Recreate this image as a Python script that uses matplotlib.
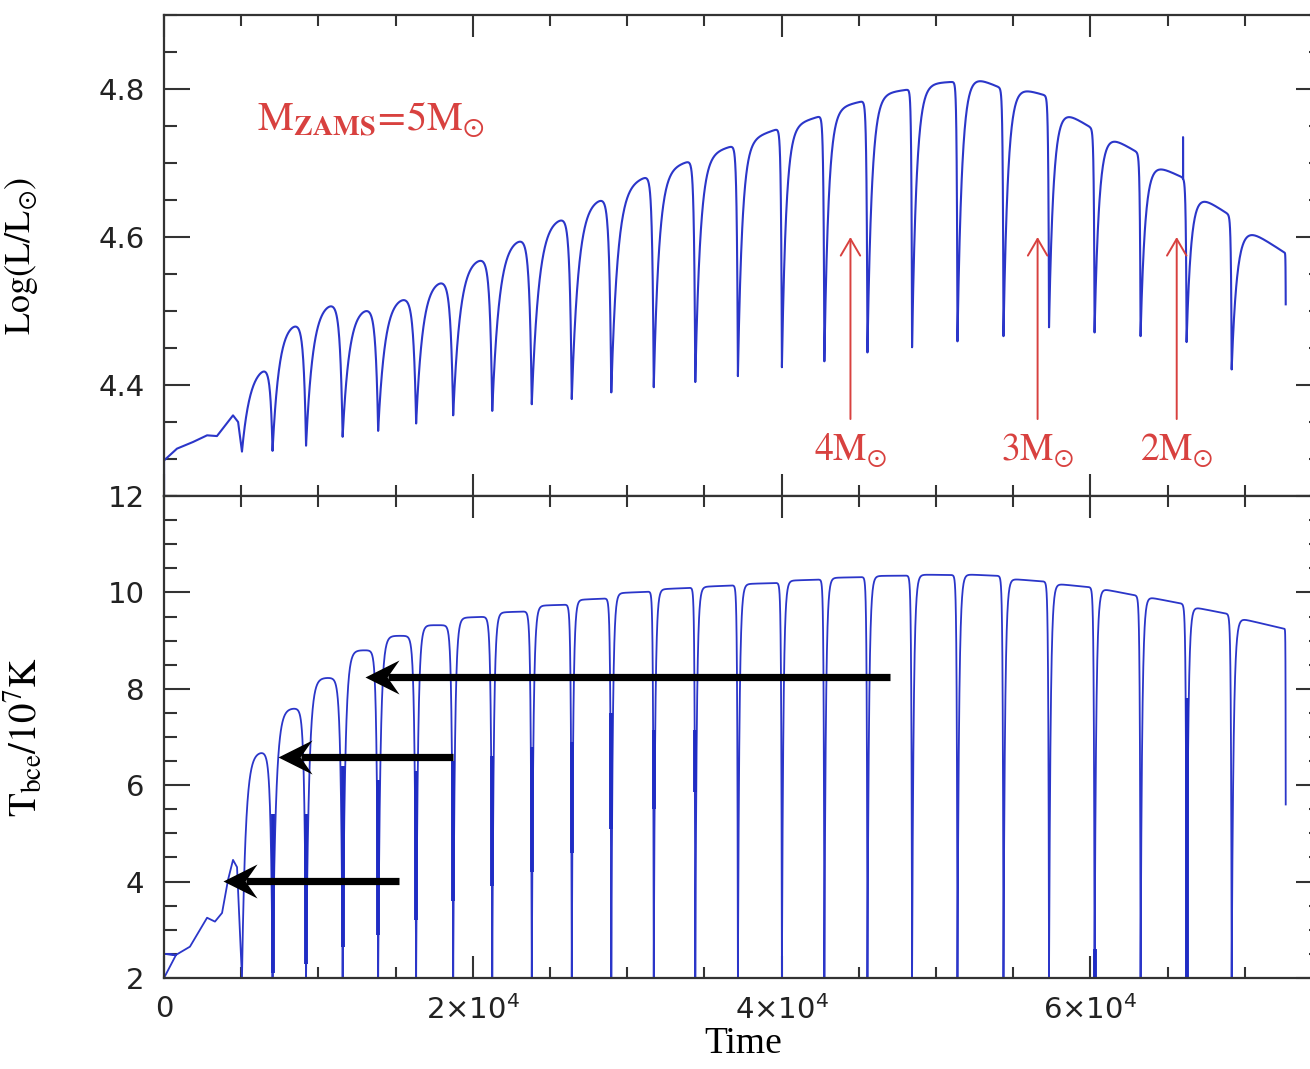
import numpy as np
import matplotlib
matplotlib.use("Agg")
import matplotlib.pyplot as plt
from matplotlib.path import Path
from matplotlib.ticker import MultipleLocator, FixedLocator

# ---------------- data ----------------
# times of the thermal pulses (years)
pulse_time = [5050, 7030, 9200, 11570, 13870, 16330, 18730, 21260, 23820, 26410,
              28970, 31720, 34410, 37170, 40020, 42770, 45560, 48450, 51390, 54370,
              57320, 60270, 63250, 66230, 69150]
end_time = 72650

# early (pre-pulse) part of the tracks
pre_time_L = [0, 0, 0, 840, 1880, 2790, 3430, 3950, 4470, 4800]
pre_L = [4.45, 4.25, 4.298, 4.314, 4.323, 4.332, 4.331, 4.345, 4.359, 4.350]
pre_time_T = [0, 0, 780, 0, 780, 1680, 2790, 3300, 3760, 4150, 4470, 4730]
pre_T = [3.9, 2.0, 2.48, 2.5, 2.48, 2.65, 3.25, 3.17, 3.35, 4.04, 4.45, 4.30]

# luminosity: value at each pulse dip, level after recovery, level before next pulse
lum_dip = [4.310, 4.311, 4.318, 4.330, 4.338, 4.348, 4.359, 4.365, 4.374, 4.381,
           4.390, 4.397, 4.404, 4.412, 4.424, 4.432, 4.444, 4.451, 4.459, 4.466,
           4.478, 4.471, 4.466, 4.458, 4.421]
lum_start = [4.430, 4.490, 4.515, 4.510, 4.522, 4.545, 4.575, 4.600, 4.627, 4.650,
             4.670, 4.690, 4.710, 4.728, 4.748, 4.772, 4.792, 4.807, 4.826, 4.808,
             4.782, 4.748, 4.707, 4.667, 4.625]
lum_end = [4.428, 4.485, 4.513, 4.505, 4.520, 4.543, 4.573, 4.600, 4.628, 4.655,
           4.685, 4.705, 4.725, 4.748, 4.765, 4.785, 4.800, 4.810, 4.800, 4.790,
           4.745, 4.712, 4.678, 4.628, 4.578]
lum_final = 4.509
lum_rise = [0.27, 0.20, 0.19, 0.19, 0.18, 0.18, 0.18, 0.18, 0.18, 0.17,
            0.15, 0.13, 0.12, 0.10, 0.10, 0.10, 0.10, 0.10, 0.10, 0.10,
            0.10, 0.10, 0.10, 0.10, 0.10]
lum_drop = [0.07, 0.07, 0.07, 0.07, 0.07, 0.07, 0.06, 0.06, 0.05, 0.05,
            0.035, 0.03, 0.025, 0.02, 0.02, 0.02, 0.015, 0.015, 0.015, 0.015,
            0.015, 0.015, 0.015, 0.015, 0.003]
spike_time = 66000
spike_top = 4.735

# temperature at the base of the convective envelope (1e7 K)
temp_dip = [2.0, 2.0, 2.0, 2.0, 2.0, 2.0, 2.0, 2.0, 2.0, 2.0,
            2.0, 2.0, 2.0, 2.0, 2.0, 2.0, 2.0, 2.0, 2.0, 2.0,
            2.0, 2.0, 2.0, 2.0, 2.0]
temp_start = [6.70, 7.60, 8.23, 8.80, 9.10, 9.32, 9.47, 9.58, 9.72, 9.84,
              9.98, 10.06, 10.11, 10.17, 10.24, 10.30, 10.34, 10.37, 10.38, 10.29,
              10.19, 10.10, 9.93, 9.72, 9.50]
temp_end = [6.70, 7.60, 8.23, 8.80, 9.10, 9.32, 9.50, 9.61, 9.75, 9.88,
            10.02, 10.10, 10.15, 10.20, 10.27, 10.32, 10.35, 10.36, 10.34, 10.22,
            10.10, 9.92, 9.75, 9.54, 9.24]
temp_final = 5.6
temp_rise = [0.12, 0.10, 0.08, 0.07, 0.06, 0.05, 0.045, 0.04, 0.04, 0.035,
             0.035, 0.035, 0.035, 0.035, 0.035, 0.035, 0.035, 0.035, 0.035, 0.035,
             0.035, 0.035, 0.035, 0.035, 0.035]
temp_drop = [0.06, 0.05, 0.05, 0.04, 0.04, 0.035, 0.03, 0.025, 0.02, 0.02,
             0.015, 0.015, 0.015, 0.015, 0.015, 0.015, 0.015, 0.015, 0.015, 0.015,
             0.015, 0.015, 0.015, 0.015, 0.003]
# heavily over-plotted parts of the pulse drops (bottom panel)
thick_lo = [np.nan, 2.1, 2.3, 2.65, 2.9, 3.2, 3.6, 3.9, 4.2, 4.6,
            5.1, 5.5, 5.85, np.nan, np.nan, np.nan, np.nan, np.nan, np.nan, np.nan,
            np.nan, 2.0, np.nan, 2.0, np.nan]
thick_hi = [np.nan, 5.4, 5.4, 6.4, 6.1, 6.3, 6.5, 6.6, 6.8, 6.9,
            7.5, 7.15, 7.15, np.nan, np.nan, np.nan, np.nan, np.nan, np.nan, np.nan,
            np.nan, 2.6, np.nan, 7.8, np.nan]

# annotations
mass_time = [44460, 56580, 65590]
mass_label = ["4", "3", "2"]
mass_arrow_base = 4.354
mass_arrow_tip = 4.600
mass_label_L = 4.311
bk_tail_time = [47050, 18730, 15230]
bk_tip_time = [13030, 7390, 3820]
bk_T = [8.24, 6.59, 4.02]


# ---------------- build the tracks ----------------
def build_track(pre_t, pre_v, dips, starts, ends, rises, drops, final):
    ts = list(pre_t)
    vs = list(pre_v)
    n = len(pulse_time)
    s = np.unique(np.concatenate([np.linspace(0, 0.1, 50),
                                  np.linspace(0.1, 0.9, 100),
                                  np.linspace(0.9, 1.0, 80)]))
    for i in range(n):
        t0 = pulse_time[i]
        t1 = pulse_time[i + 1] if i + 1 < n else end_time
        d0 = dips[i]
        d1 = dips[i + 1] if i + 1 < n else final
        a, b, tau, w = starts[i], ends[i], rises[i], drops[i]
        base = a + (b - a) * s - (a - d0) * np.exp(-s / tau)
        f = (np.exp(-(1 - s) / w) - np.exp(-1 / w)) / (1 - np.exp(-1 / w))
        v = base - (base - d1) * f
        ts.extend((t0 + s * (t1 - t0))[:-1])
        vs.extend(v[:-1])
    ts.append(end_time)
    vs.append(final)
    return np.array(ts, float), np.array(vs, float)


tL, vL = build_track(pre_time_L, pre_L, lum_dip, lum_start, lum_end,
                     lum_rise, lum_drop, lum_final)
# spike just before the 24th pulse
k = int(np.searchsorted(tL, spike_time))
tL = np.insert(tL, k, [spike_time, spike_time, spike_time])
vL = np.insert(vL, k, [vL[k], spike_top, vL[k]])

tT, vT = build_track(pre_time_T, pre_T, temp_dip, temp_start, temp_end,
                     temp_rise, temp_drop, temp_final)

# ---------------- figure ----------------
BLUE = "#2b36c9"
DARKBLUE = "#1f2cc4"
RED = "#d8413f"
AXC = "#333333"

fig = plt.figure(figsize=(13.10, 10.69), dpi=100)
ax1 = fig.add_axes([164 / 1310, 0.53601, 1158 / 1310, 0.44995])
ax2 = fig.add_axes([164 / 1310, 0.08513, 1158 / 1310, 0.45088], sharex=ax1)

for ax in (ax1, ax2):
    for sp in ax.spines.values():
        sp.set_linewidth(1.6)
        sp.set_color(AXC)
    ax.tick_params(which="both", direction="in", top=True, right=True,
                   color=AXC, width=1.5, labelsize=21, labelcolor="#222222")
    ax.tick_params(axis="y", which="major", length=18.7, pad=14)
    ax.tick_params(axis="y", which="minor", length=9.4)
    ax.tick_params(axis="x", which="major", length=16, pad=12)
    ax.tick_params(axis="x", which="minor", length=8)
    ax.xaxis.set_major_locator(MultipleLocator(20000))
    ax.xaxis.set_minor_locator(MultipleLocator(5000))

ax1.set_xlim(0, 75000)
ax1.set_ylim(4.25, 4.9)
ax1.yaxis.set_major_locator(FixedLocator([4.4, 4.6, 4.8]))
ax1.yaxis.set_minor_locator(MultipleLocator(0.05))
ax1.set_yticklabels(["4.4", "4.6", "4.8"])
ax1.tick_params(axis="x", labelbottom=False)

ax2.set_ylim(2, 12)
ax2.yaxis.set_minor_locator(MultipleLocator(0.5))
ax2.set_yticks([2, 4, 6, 8, 10, 12])
ax2.set_yticklabels(["2", "4", "6", "8", "10", "12"])
ax2.set_xticks([0, 20000, 40000, 60000])
ax2.set_xticklabels(["0", r"$2{\times}10^{4}$", r"$4{\times}10^{4}$", r"$6{\times}10^{4}$"])
for ax in (ax1, ax2):
    for lab in ax.get_xticklabels() + ax.get_yticklabels():
        lab.set_family("DejaVu Sans")
        lab.set_math_fontfamily("dejavusans")

# tracks
ax1.plot(tL, vL, color=BLUE, lw=1.5, solid_joinstyle="round")
ax2.plot(tT, vT, color=BLUE, lw=1.3, solid_joinstyle="round")
ax2.vlines(pulse_time, thick_lo, thick_hi, color=DARKBLUE, lw=2.8)

# labels
ax1.set_ylabel(r"$\mathrm{Log(L/L_{\odot})}$", fontsize=26, math_fontfamily="stix")
ax2.set_ylabel(r"$\mathrm{T_{bce}/10^{7}K}$", fontsize=28, math_fontfamily="stix")
ax1.yaxis.set_label_coords(-0.107, 0.5)
ax2.yaxis.set_label_coords(-0.103, 0.5)
ax2.set_xlabel("Time", fontsize=27, family="Liberation Serif")
ax2.xaxis.set_label_coords(0.5, -0.1)

# red annotations
ax1.text(13415, 4.758, r"$\mathrm{M_{\mathbf{ZAMS}}\!=\!5M_{\odot}}$", color=RED,
         fontsize=29, ha="center", va="center", math_fontfamily="stix")
for t, lab in zip(mass_time, mass_label):
    ax1.annotate("", xy=(t, mass_arrow_tip), xytext=(t, mass_arrow_base),
                 arrowprops=dict(arrowstyle="->,head_length=0.6,head_width=0.35",
                                 color=RED, lw=1.4, mutation_scale=20,
                                 shrinkA=0, shrinkB=0))
    ax1.text(t, mass_label_L, r"$\mathrm{%sM_{\odot}}$" % lab, color=RED,
             fontsize=27, ha="center", va="center", math_fontfamily="stix")

# black arrows
head = Path([(0, 0), (2, 1), (1.3, 0), (2, -1), (0, 0)],
            [Path.MOVETO, Path.LINETO, Path.LINETO, Path.LINETO, Path.CLOSEPOLY])
for t0, t1, y in zip(bk_tail_time, bk_tip_time, bk_T):
    ax2.plot([t0, t1 + 1500], [y, y], color="black", lw=5.2, solid_capstyle="butt")
    ax2.plot([t1], [y], marker=head, ms=49, color="black", mec="black", mew=0)

fig.savefig("out.png", dpi=100)
